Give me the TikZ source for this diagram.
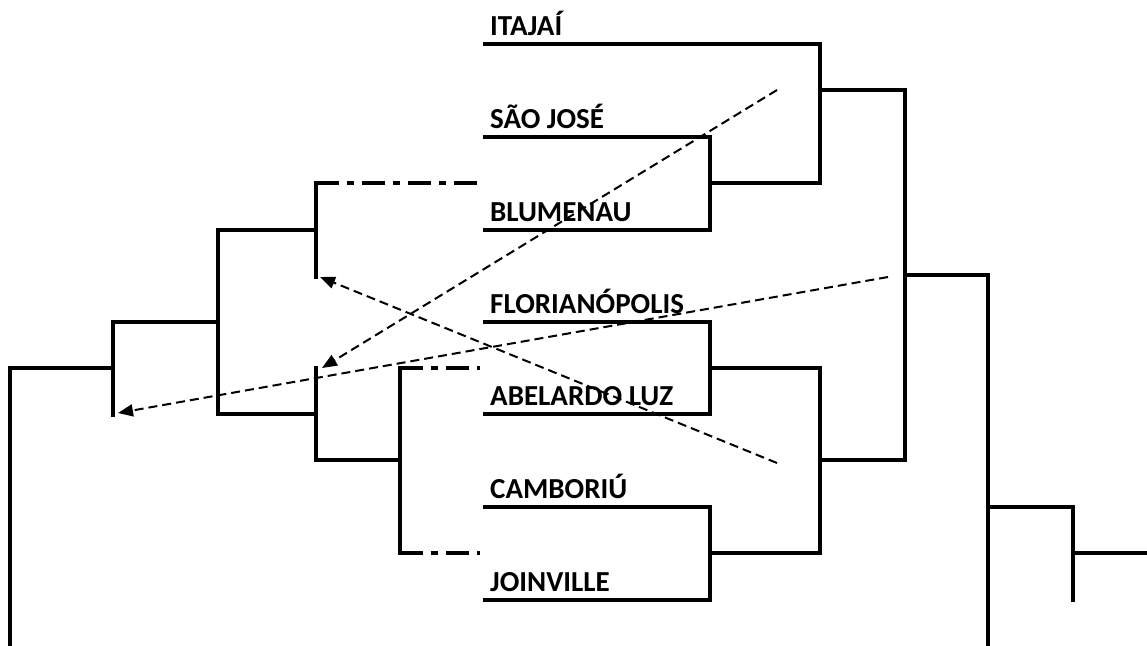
\documentclass[tikz,border=0pt]{standalone}
\usepackage{fontspec}
\setmainfont{Carlito}
\usetikzlibrary{arrows.meta}
\newcommand{\teamfont}{\bfseries\fontsize{29}{34}\selectfont}
\tikzset{
  br/.style={line width=3.6pt, line cap=rect},
  dd/.style={line width=3.6pt, dash pattern=on 23pt off 8pt on 7pt off 8pt},
  arr/.style={line width=2pt, dash pattern=on 9pt off 5pt, -{Triangle[length=15pt,width=12pt]}},
  team/.style={anchor=base west, inner sep=0pt, font=\teamfont}
}
\begin{document}
\begin{tikzpicture}[x=1pt,y=-1pt]
\useasboundingbox (0,0) rectangle (1147,645);
% coordinates
\coordinate (itaL) at (485,44);   \coordinate (itaR) at (820,44);
\coordinate (sjL) at (485,137);   \coordinate (sjR) at (710,137);
\coordinate (bluL) at (485,230);  \coordinate (bluR) at (710,230);
\coordinate (floL) at (485,322);  \coordinate (floR) at (710,322);
\coordinate (abeL) at (485,414);  \coordinate (abeR) at (710,414);
\coordinate (camL) at (485,507);  \coordinate (camR) at (710,507);
\coordinate (joiL) at (485,600);  \coordinate (joiR) at (710,600);
% labels
\node[team] (ita) at (490,35) {ITAJAÍ};
\node[team] (sj) at (490,128) {SÃO JOSÉ};
\node[team] (blu) at (490,221) {BLUMENAU};
\node[team] (flo) at (490,313) {FLORIANÓPOLIS};
\node[team] (abe) at (490,405) {ABELARDO LUZ};
\node[team] (cam) at (490,498) {CAMBORIÚ};
\node[team] (joi) at (490,591) {JOINVILLE};
% right bracket
\draw[br] (itaL) -- (itaR);
\draw[br] (sjL) -- (sjR) -- (bluR) -- (bluL);
\draw[br] (floL) -- (floR) -- (abeR) -- (abeL);
\draw[br] (camL) -- (camR) -- (joiR) -- (joiL);
\coordinate (m1) at (710,183); \coordinate (m1r) at (820,183);
\draw[br] (m1) -- (m1r) -- (itaR);
\coordinate (m2) at (710,368); \coordinate (m2r) at (820,368);
\coordinate (m3) at (710,553); \coordinate (m3r) at (820,553);
\draw[br] (m2) -- (m2r) -- (m3r) -- (m3);
\coordinate (q1) at (820,90); \coordinate (q1r) at (905,90);
\coordinate (q2) at (820,460); \coordinate (q2r) at (905,460);
\draw[br] (q1) -- (q1r) -- (q2r) -- (q2);
\coordinate (s1) at (905,275); \coordinate (s1r) at (988,275);
\coordinate (s1b) at (988,648);
\draw[br] (s1) -- (s1r) -- (s1b);
\coordinate (f1) at (988,507); \coordinate (f1r) at (1073,507);
\coordinate (f1b) at (1073,600);
\draw[br] (f1) -- (f1r) -- (f1b);
\coordinate (fm) at (1073,553); \coordinate (fe) at (1150,553);
\draw[br] (fm) -- (fe);
% left bracket
\coordinate (lA) at (316,183); \coordinate (lAe) at (480,183);
\coordinate (lAb) at (316,277);
\draw[dd] (lA) -- (lAe);
\draw[br] (lA) -- (lAb);
\coordinate (lB) at (218,230); \coordinate (lBr) at (316,230);
\coordinate (lBb) at (218,414); \coordinate (lBbr) at (316,414);
\draw[br] (lBr) -- (lB) -- (lBb) -- (lBbr);
\coordinate (lC) at (316,368); \coordinate (lCb) at (316,460);
\coordinate (lCbr) at (400,460);
\draw[br] (lC) -- (lCb) -- (lCbr);
\coordinate (lD) at (400,368); \coordinate (lDb) at (400,553);
\coordinate (lDe) at (480,368); \coordinate (lDbe) at (480,553);
\draw[br] (lD) -- (lDb);
\draw[dd] (lD) -- (lDe);
\draw[dd] (lDb) -- (lDbe);
\coordinate (lE) at (113,322); \coordinate (lEr) at (218,322);
\coordinate (lEb) at (113,415);
\draw[br] (lEr) -- (lE) -- (lEb);
\coordinate (lF) at (113,368); \coordinate (lFl) at (10,368);
\coordinate (lFb) at (10,648);
\draw[br] (lF) -- (lFl) -- (lFb);
% dashed arrows
\coordinate (a1s) at (777,90);  \coordinate (a1e) at (322,368);
\coordinate (a2s) at (888,277); \coordinate (a2e) at (118,413);
\coordinate (a3s) at (777,463); \coordinate (a3e) at (320,277);
\draw[arr] (a1s) -- (a1e);
\draw[arr] (a2s) -- (a2e);
\draw[arr] (a3s) -- (a3e);
\end{tikzpicture}
\end{document}
